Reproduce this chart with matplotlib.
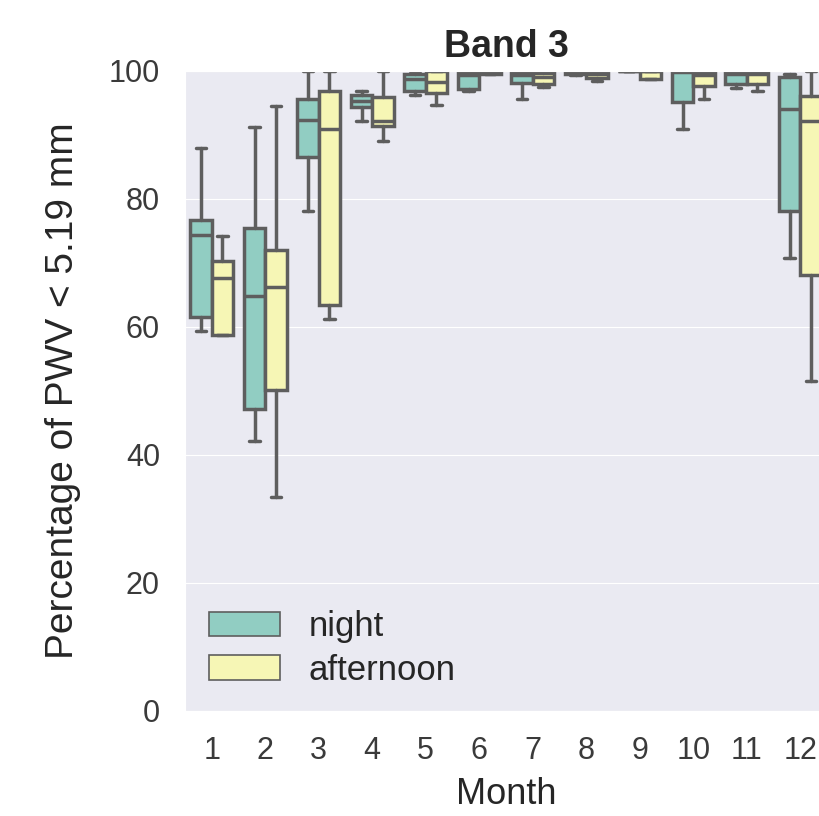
import matplotlib
matplotlib.use("Agg")
import matplotlib.pyplot as plt
import seaborn as sns
from matplotlib.patches import Patch

months = [str(m) for m in range(1, 13)]
hues = ["night", "afternoon"]

# box stats (percent)
night_whislo = [59.4, 42.2, 78.2, 92.2, 96.2, 96.9, 95.6, 99.4, 100, 90.9, 97.4, 70.8]
night_q1 = [61.6, 47.2, 86.5, 94.3, 96.8, 97.2, 98.1, 99.5, 100, 95.1, 98.0, 78.1]
night_med = [74.4, 64.9, 92.3, 95.3, 98.7, 99.3, 99.3, 99.8, 100, 99.9, 99.6, 94.1]
night_q3 = [76.7, 75.5, 95.6, 96.3, 99.5, 99.8, 99.8, 100, 100, 100, 100, 99.0]
night_whishi = [87.9, 91.2, 100, 96.9, 100, 100, 100, 100, 100, 100, 100, 99.5]

aft_whislo = [58.8, 33.5, 61.3, 89.1, 94.7, 99.5, 97.5, 98.4, 98.7, 95.6, 96.9, 51.5]
aft_q1 = [58.8, 50.1, 63.4, 91.4, 96.6, 99.6, 98.0, 98.9, 98.8, 97.7, 98.0, 68.2]
aft_med = [67.6, 66.3, 90.9, 92.2, 98.3, 99.8, 99.0, 99.5, 100, 99.3, 99.5, 92.2]
aft_q3 = [70.3, 72.0, 96.8, 96.0, 100, 100, 99.7, 100, 100, 99.8, 100, 96.1]
aft_whishi = [74.2, 94.5, 100, 100, 100, 100, 100, 100, 100, 100, 100, 100]

COLORS = ["#91cdc2", "#f6f6b5"]
GRAY = "#5e5e5e"

sns.set_style("darkgrid")
plt.rcParams["font.family"] = ["Liberation Sans", "DejaVu Sans"]


def stats(lo, q1, med, q3, hi):
    return [dict(whislo=a, q1=b, med=c, q3=d, whishi=e, fliers=[])
            for a, b, c, d, e in zip(lo, q1, med, q3, hi)]


fig = plt.figure(figsize=(8.2, 8.16), dpi=100)
ax = fig.add_axes([0.2256, 0.1287, 0.7829, 0.7843])

groups = [stats(night_whislo, night_q1, night_med, night_q3, night_whishi),
          stats(aft_whislo, aft_q1, aft_med, aft_q3, aft_whishi)]
offsets = [-0.2, 0.2]
lw = 2.5
for st, off, col in zip(groups, offsets, COLORS):
    pos = [i + off for i in range(len(months))]
    ax.bxp(st, positions=pos, widths=0.4, patch_artist=True, showfliers=False,
           boxprops=dict(facecolor=col, edgecolor=GRAY, linewidth=lw),
           medianprops=dict(color=GRAY, linewidth=lw),
           whiskerprops=dict(color=GRAY, linewidth=lw),
           capprops=dict(color=GRAY, linewidth=lw))

ax.set_xlim(-0.5, len(months) - 0.5)
ax.set_ylim(0, 100)
ax.set_xticks(range(len(months)))
ax.set_xticklabels(months)
ax.set_yticks([0, 20, 40, 60, 80, 100])
ax.grid(False, axis="x")
ax.tick_params(labelsize=22, length=0, pad=18, labelcolor="#3a3a3a")
ax.set_xlabel("Month", fontsize=26, labelpad=8)
ax.set_ylabel("Percentage of PWV < 5.19 mm", fontsize=28, labelpad=20)
ax.set_title("Band 3", fontsize=27, fontweight="bold", pad=10)

handles = [Patch(facecolor=c, edgecolor=GRAY, linewidth=1.2, label=h)
           for c, h in zip(COLORS, hues)]
ax.legend(handles=handles, loc="lower left", fontsize=25, frameon=False,
          handlelength=2.05, handleheight=0.7, handletextpad=0.8,
          labelspacing=0.3, borderaxespad=0.3)

fig.savefig("out.png", dpi=100)
